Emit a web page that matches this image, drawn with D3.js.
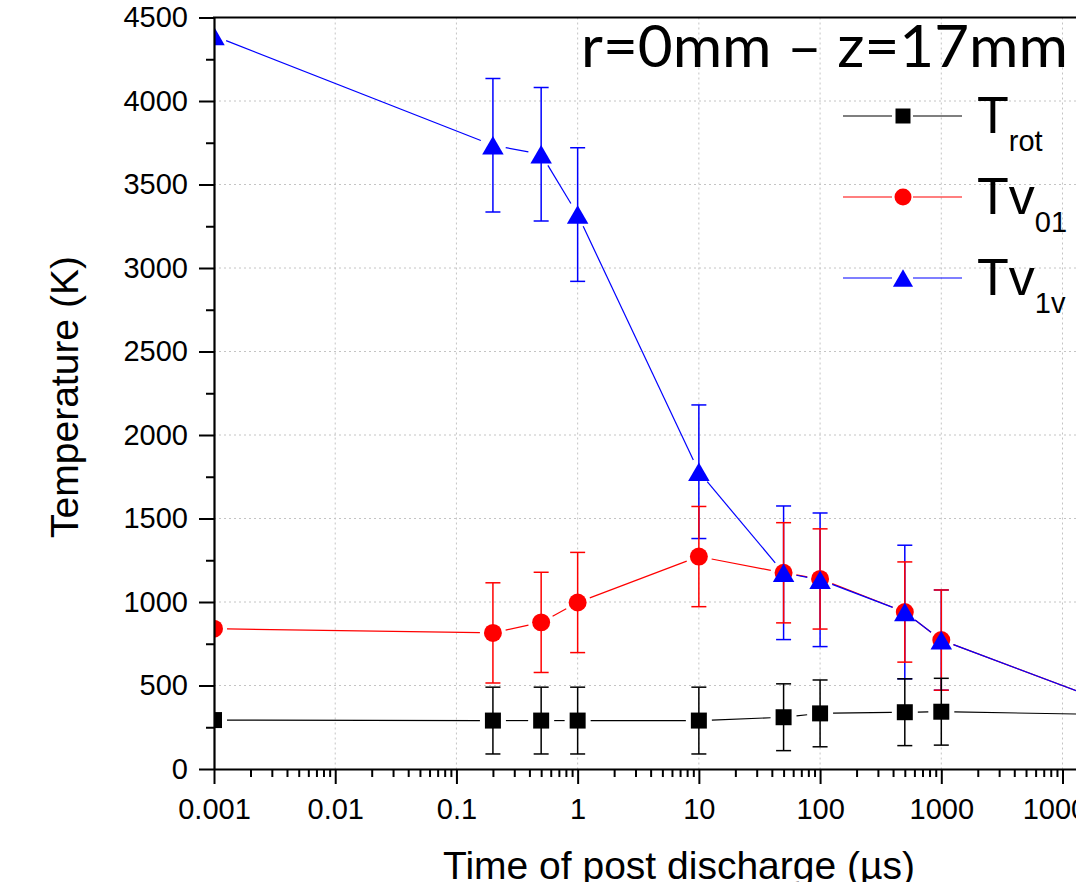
<!DOCTYPE html>
<html>
<head>
<meta charset="utf-8">
<script src="https://cdn.jsdelivr.net/npm/d3@7"></script>
<style>
  body { margin: 0; background: #fff; }
  svg { display: block; }
</style>
</head>
<body>
<div id="chart"></div>
<script>
// time after discharge (µs); last point lies past the visible right edge
const times = [0.001, 0.2, 0.5, 1, 10, 50, 100, 500, 1000, 20000];

const tRot = [293, 290, 290, 290, 290, 310, 333, 340, 343, 327];
const tRotErr = [0, 200, 200, 200, 200, 200, 200, 200, 200, 0];

const tv01 = [840, 815, 878, 997, 1272, 1175, 1138, 940, 772, 417];
const tv01Err = [0, 300, 300, 300, 300, 300, 300, 300, 300, 0];

const tv1v = [4390, 3735, 3681, 3320, 1780, 1175, 1133, 940, 772, 417];
const tv1vErr = [0, 400, 400, 400, 400, 400, 400, 400, 300, 0];

const xTicks = [0.001, 0.01, 0.1, 1, 10, 100, 1000, 10000];
const xTickLabels = ["0.001", "0.01", "0.1", "1", "10", "100", "1000", "10000"];
const yTicks = [0, 500, 1000, 1500, 2000, 2500, 3000, 3500, 4000, 4500];

const series = [
    {name: "rot", values: tRot, err: tRotErr, color: "#000000", symbol: d3.symbolSquare, size: 256, legendSize: 225},
    {name: "01", values: tv01, err: tv01Err, color: "#ff0000", symbol: d3.symbolCircle, size: 254, legendSize: 227},
    {name: "1v", values: tv1v, err: tv1vErr, color: "#0000ff", symbol: d3.symbolTriangle, size: 200, legendSize: 175}
];

const W = 1076, H = 882;
const mLeft = 214, mRight = 1099, mTop = 17.5, mBottom = 769;

const svg = d3.select("#chart").append("svg")
    .attr("width", W)
    .attr("height", H)
    .style("font-family", "'Liberation Sans', Arial, sans-serif");

svg.append("rect").attr("width", W).attr("height", H).attr("fill", "#fff");

const x = d3.scaleLog().domain([0.001, 20000]).range([mLeft, mRight]);
const y = d3.scaleLinear().domain([0, 4500]).range([mBottom, mTop]);

// grid
const grid = svg.append("g").attr("stroke", "#c4c4c4").attr("stroke-dasharray", "2,3").attr("stroke-width", 1);
grid.selectAll("line.v")
    .data(xTicks.slice(1))
    .enter().append("line")
    .attr("x1", d => x(d)).attr("x2", d => x(d))
    .attr("y1", mTop).attr("y2", mBottom);
grid.selectAll("line.h")
    .data(yTicks.slice(1, -1))
    .enter().append("line")
    .attr("x1", mLeft).attr("x2", mRight)
    .attr("y1", d => y(d)).attr("y2", d => y(d));

// clip for data
svg.append("clipPath").attr("id", "plotclip")
    .append("rect")
    .attr("x", mLeft).attr("y", mTop)
    .attr("width", mRight - mLeft).attr("height", mBottom - mTop);

const plot = svg.append("g").attr("clip-path", "url(#plotclip)");

// error bars (blue, red, black order so black caps sit on top)
[series[2], series[1], series[0]].forEach(s => {
    const g = plot.append("g").attr("stroke", s.color).attr("stroke-width", 1.5);
    const pts = times.map((t, i) => ({t: t, v: s.values[i], e: s.err[i]})).filter(d => d.e > 0);
    g.selectAll("line.bar").data(pts).enter().append("line")
        .attr("x1", d => x(d.t)).attr("x2", d => x(d.t))
        .attr("y1", d => y(d.v - d.e)).attr("y2", d => y(d.v + d.e));
    g.selectAll("line.capt").data(pts).enter().append("line")
        .attr("x1", d => x(d.t) - 7.5).attr("x2", d => x(d.t) + 7.5)
        .attr("y1", d => y(d.v + d.e)).attr("y2", d => y(d.v + d.e));
    g.selectAll("line.capb").data(pts).enter().append("line")
        .attr("x1", d => x(d.t) - 7.5).attr("x2", d => x(d.t) + 7.5)
        .attr("y1", d => y(d.v - d.e)).attr("y2", d => y(d.v - d.e));
});

// connecting lines with a small gap around each marker
const gap = 13;
const line = d3.line();
series.forEach(s => {
    const segs = [];
    for (let i = 0; i < times.length - 1; i++) {
        const x1 = x(times[i]), y1 = y(s.values[i]);
        const x2 = x(times[i + 1]), y2 = y(s.values[i + 1]);
        const len = Math.hypot(x2 - x1, y2 - y1);
        if (len <= gap * 2) continue;
        const ux = (x2 - x1) / len, uy = (y2 - y1) / len;
        segs.push([[x1 + ux * gap, y1 + uy * gap], [x2 - ux * gap, y2 - uy * gap]]);
    }
    plot.append("g").selectAll("path").data(segs).enter().append("path")
        .attr("d", line)
        .attr("fill", "none")
        .attr("stroke", s.color)
        .attr("stroke-width", 1.2);
});

// markers
series.forEach(s => {
    const off = s.symbol === d3.symbolTriangle ? Math.sqrt(s.size / (3 * Math.sqrt(3))) / 2 : 0;
    plot.append("g").selectAll("path")
        .data(times.map((t, i) => ({t: t, v: s.values[i]})))
        .enter().append("path")
        .attr("d", d3.symbol().type(s.symbol).size(s.size))
        .attr("transform", d => "translate(" + x(d.t) + "," + (y(d.v) + off) + ")")
        .attr("fill", s.color);
});

// axes
const yAxis = svg.append("g")
    .attr("transform", "translate(" + mLeft + ",0)")
    .call(d3.axisLeft(y).tickValues(yTicks).tickSize(15).tickSizeOuter(0).tickPadding(11)
        .tickFormat(d3.format("d")));
yAxis.selectAll("text").attr("font-size", 29).attr("fill", "#000").attr("font-family", "'Liberation Sans', Arial, sans-serif");

svg.append("g")
    .attr("transform", "translate(" + mLeft + ",0)")
    .call(d3.axisLeft(y).tickValues(d3.range(250, 4500, 500)).tickSize(8).tickFormat(""))
    .call(g => g.select(".domain").remove());

const xAxis = svg.append("g")
    .attr("transform", "translate(0," + mBottom + ")")
    .call(d3.axisBottom(x).tickValues(xTicks).tickSize(15).tickSizeOuter(0).tickPadding(14)
        .tickFormat((d, i) => xTickLabels[i]));
xAxis.selectAll("text").attr("font-size", 29).attr("fill", "#000").attr("font-family", "'Liberation Sans', Arial, sans-serif");

const minorX = [];
xTicks.forEach(t => { for (let k = 2; k <= 9; k++) if (t * k <= 20000) minorX.push(t * k); });
svg.append("g")
    .attr("transform", "translate(0," + mBottom + ")")
    .call(d3.axisBottom(x).tickValues(minorX).tickSize(8).tickFormat(""))
    .call(g => g.select(".domain").remove());

svg.selectAll(".domain").attr("stroke-width", 2.2);
svg.selectAll(".tick line").attr("stroke-width", 2);

// top frame
svg.append("line")
    .attr("x1", mLeft - 1).attr("x2", mRight)
    .attr("y1", mTop).attr("y2", mTop)
    .attr("stroke", "#000").attr("stroke-width", 2.2);

// axis titles
svg.append("text")
    .attr("x", 679).attr("y", 879)
    .attr("text-anchor", "middle")
    .attr("font-size", 39)
    .text("Time of post discharge (µs)");

svg.append("text")
    .attr("transform", "translate(78,397) rotate(-90)")
    .attr("text-anchor", "middle")
    .attr("font-size", 39)
    .text("Temperature (K)");

// title
svg.append("text")
    .attr("x", 581).attr("y", 67)
    .attr("font-family", "Lato, 'Open Sans', sans-serif")
    .attr("font-size", 59)
    .attr("textLength", 487)
    .attr("lengthAdjust", "spacingAndGlyphs")
    .text("r=0mm – z=17mm");

// legend
const legendY = [116, 197, 278];
const legendMain = ["T", "Tv", "Tv"];
series.forEach((s, i) => {
    const g = svg.append("g").attr("transform", "translate(0," + legendY[i] + ")");
    g.append("line").attr("x1", 843).attr("x2", 892).attr("y1", 0).attr("y2", 0)
        .attr("stroke", s.color).attr("stroke-width", 1.2);
    g.append("line").attr("x1", 913).attr("x2", 962).attr("y1", 0).attr("y2", 0)
        .attr("stroke", s.color).attr("stroke-width", 1.2);
    const off = s.symbol === d3.symbolTriangle ? Math.sqrt(s.legendSize / (3 * Math.sqrt(3))) / 2 : 0;
    g.append("path")
        .attr("d", d3.symbol().type(s.symbol).size(s.legendSize))
        .attr("transform", "translate(903," + off + ")")
        .attr("fill", s.color);
    const t = g.append("text").attr("x", 977).attr("y", 17).attr("font-size", 52);
    t.append("tspan").text(legendMain[i]);
    t.append("tspan").attr("font-size", 29).attr("dy", 18).text(s.name);
});
</script>
</body>
</html>
